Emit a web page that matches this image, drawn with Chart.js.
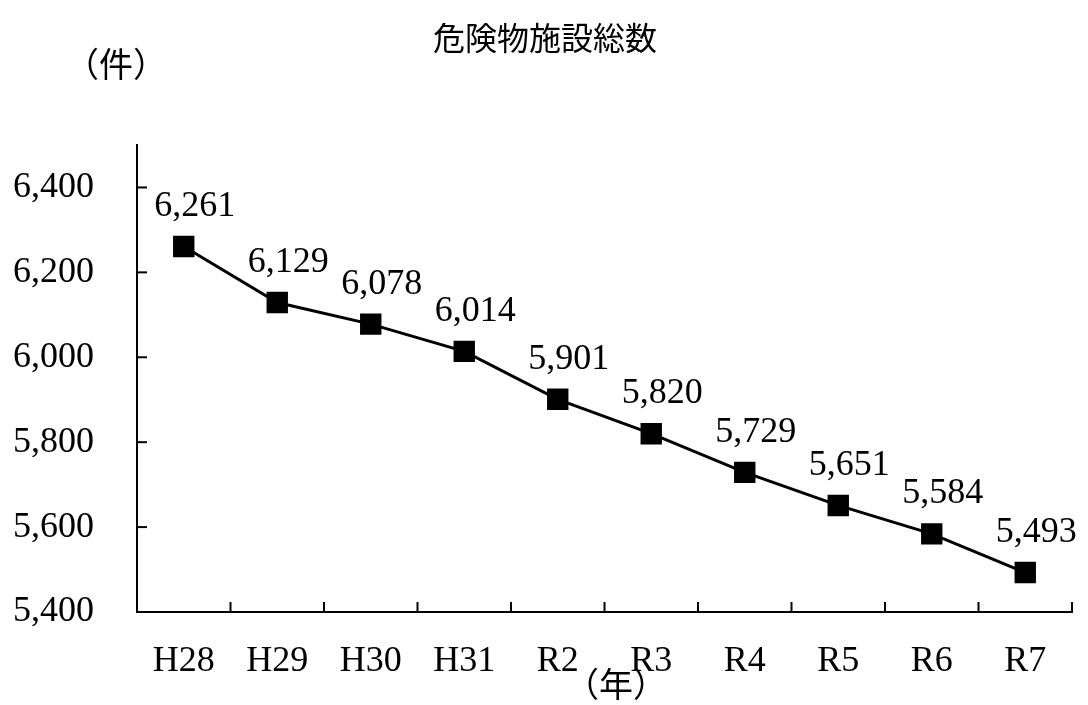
<!DOCTYPE html>
<html>
<head>
<meta charset="utf-8">
<script src="https://cdn.jsdelivr.net/npm/chart.js@4"></script>
<style>
  html, body { margin: 0; padding: 0; background: #fff; }
  #wrap { width: 1088px; height: 705px; }
</style>
</head>
<body>
<div id="wrap"><canvas id="chart" width="1088" height="705"></canvas></div>
<script>
// data
const years = ['H28', 'H29', 'H30', 'H31', 'R2', 'R3', 'R4', 'R5', 'R6', 'R7'];
const facilityTotals = [6261, 6129, 6078, 6014, 5901, 5820, 5729, 5651, 5584, 5493];
const yTickValues = [5400, 5600, 5800, 6000, 6200, 6400];

const titleText = '危険物施設総数';
const yUnitText = '（件）';
const xUnitText = '（年）';

const numFont = '"Liberation Serif", "DejaVu Serif", serif';
const jpFont = '"Noto Sans CJK JP", sans-serif';

const fmt = (v) => v.toLocaleString('en-US');

// texts, inward tick marks and point labels
const decorations = {
    id: 'decorations',
    afterDatasetsDraw(chart) {
        const ctx = chart.ctx;
        const x = chart.scales.x;
        const y = chart.scales.y;
        ctx.save();

        // inward tick marks on the y axis
        ctx.strokeStyle = '#000';
        ctx.lineWidth = 2;
        y.ticks.forEach((t, i) => {
            const py = y.getPixelForTick(i);
            ctx.beginPath();
            ctx.moveTo(x.left, py);
            ctx.lineTo(x.left + 10, py);
            ctx.stroke();
        });
        // inward tick marks on the x axis, between categories
        const half = (x.getPixelForValue(1) - x.getPixelForValue(0)) / 2;
        for (let i = 0; i < years.length; i++) {
            const px = x.getPixelForValue(i) + half;
            ctx.beginPath();
            ctx.moveTo(px, y.bottom);
            ctx.lineTo(px, y.bottom - 10);
            ctx.stroke();
        }

        // value labels
        ctx.fillStyle = '#000';
        ctx.font = '36px ' + numFont;
        ctx.textAlign = 'center';
        ctx.textBaseline = 'middle';
        const meta = chart.getDatasetMeta(0);
        meta.data.forEach((pt, i) => {
            ctx.fillText(fmt(facilityTotals[i]), pt.x + 11, pt.y - 40);
        });

        // title and unit labels
        ctx.font = '32px ' + jpFont;
        ctx.fillText(titleText, 545, 38);
        ctx.font = '34px ' + jpFont;
        ctx.fillText(yUnitText, 116, 64);
        ctx.fillText(xUnitText, 616, 684);
        ctx.restore();
    }
};

new Chart(document.getElementById('chart'), {
    type: 'line',
    data: {
        labels: years,
        datasets: [{
            data: facilityTotals,
            borderColor: '#000',
            borderWidth: 3,
            backgroundColor: '#000',
            pointStyle: 'rect',
            pointRadius: 13,
            pointHoverRadius: 13,
            tension: 0
        }]
    },
    options: {
        responsive: false,
        animation: false,
        devicePixelRatio: 1,
        layout: { padding: { top: 145, right: 11, left: 0, bottom: 0 } },
        plugins: {
            legend: { display: false },
            tooltip: { enabled: false }
        },
        scales: {
            x: {
                offset: true,
                grid: { display: false },
                border: { display: true, color: '#000', width: 2 },
                ticks: {
                    color: '#000',
                    padding: 20,
                    font: { family: numFont, size: 36 }
                },
                afterFit(scale) { scale.height = 93; }
            },
            y: {
                min: 5400,
                max: 6500,
                grid: { display: false },
                border: { display: true, color: '#000', width: 2 },
                afterBuildTicks(scale) {
                    scale.ticks = yTickValues.map(v => ({ value: v }));
                },
                ticks: {
                    color: '#000',
                    padding: 35,
                    font: { family: numFont, size: 36 },
                    callback: (v) => fmt(v)
                },
                afterFit(scale) { scale.width = 137; }
            }
        }
    },
    plugins: [decorations]
});
</script>
</body>
</html>
